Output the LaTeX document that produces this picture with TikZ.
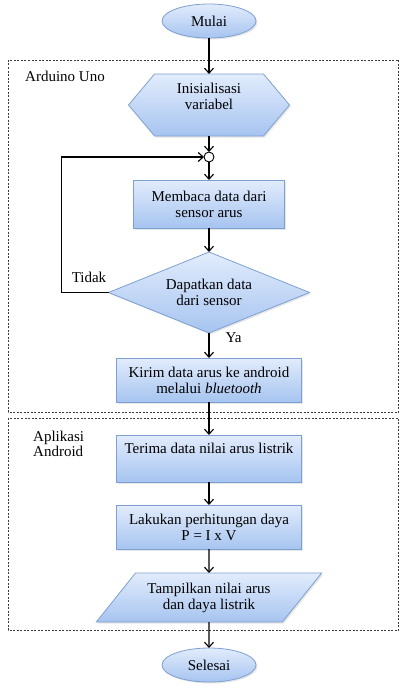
\documentclass[tikz,border=0pt]{standalone}
\usepackage{fontspec}
\setmainfont{Liberation Serif}
\newfontfamily\hurufserif{Liberation Serif}
\usepackage{tikz}
\usetikzlibrary{shapes.geometric, shapes.symbols, arrows.meta, positioning, calc, shadows}
\usepackage{xcolor}
\definecolor{birumuda}{RGB}{226,236,252}
\definecolor{birutua}{RGB}{166,196,240}
\definecolor{garis}{RGB}{125,160,210}
\definecolor{putus}{RGB}{60,60,60}
\tikzset{
  blok/.style={draw=garis, top color=birumuda, bottom color=birutua, line width=0.8pt,
               align=center, inner sep=0pt, outer sep=0pt,
               drop shadow={opacity=0.2, shadow xshift=1.5pt, shadow yshift=-1.5pt},
               font=\hurufserif\fontsize{15}{16}\selectfont},
  proses/.style={blok, rectangle, minimum width=185pt, minimum height=44pt},
  terminal/.style={blok, ellipse, minimum width=94pt, minimum height=34pt},
  persiapan/.style={blok, signal, signal to=west and east, signal pointer angle=100,
                    minimum width=161pt, minimum height=62pt},
  putusan/.style={blok, diamond, aspect=2.48, minimum width=201pt, minimum height=81pt},
  data/.style={blok, trapezium, trapezium left angle=42, trapezium right angle=138,
               trapezium stretches=true, minimum width=226pt, minimum height=49pt},
  titik/.style={circle, draw, fill=white, line width=0.9pt, minimum size=10pt,
                inner sep=0pt, outer sep=0pt},
  panah/.style={-{Straight Barb[length=5pt, width=9pt]}, line width=1.1pt},
  kotak/.style={dash pattern=on 2pt off 1.5pt, draw=putus, line width=0.9pt},
  teks/.style={font=\hurufserif\fontsize{15}{16}\selectfont, inner sep=0pt}
}
\begin{document}
\begin{tikzpicture}[x=1pt, y=-1pt]
    \useasboundingbox (0,0) rectangle (399,693);
    % kotak Arduino dan Android
    \draw[kotak] (8,60) rectangle (398.5,412);
    \draw[kotak] (8,418) rectangle (398.5,630);
    \node[teks, anchor=west] (arduino) at (25,76) {Arduino Uno};
    \node[teks, anchor=north west, align=left, font=\hurufserif\fontsize{15}{15}\selectfont] (android) at (33,431)
      {Aplikasi\\Android};

    \node[terminal] (mulai) at (209,21) {Mulai};
    \node[persiapan, below=36pt of mulai] (init) {Inisialisasi\\variabel\\[2pt]~};
    \node[titik, below=16pt of init] (titik) {};
    \node[proses, below=18pt of titik, minimum width=151pt, minimum height=48pt] (baca)
      {Membaca data dari\\sensor arus};
    \node[putusan, below=24pt of baca] (cek) {Dapatkan data\\dari sensor};
    \node[proses, below=25pt of cek] (kirim) {Kirim data arus ke android\\melalui \textit{bluetooth}};
    \node[proses, below=33pt of kirim, minimum height=47pt] (terima) {Terima data nilai arus listrik\\[4pt]~};
    \node[proses, below=23pt of terima] (hitung) {Lakukan perhitungan daya\\P = I x V};
    \node[data, below=24pt of hitung] (tampil) {Tampilkan nilai arus\\dan daya listrik};
    \node[terminal, below=26pt of tampil] (selesai) {Selesai};

    \draw[panah] (mulai) -- (init);
    \draw[panah] (init) -- (titik);
    \draw[panah] (titik) -- (baca);
    \draw[panah] (baca) -- (cek);
    \draw[panah] (cek) -- node[teks, pos=0.2, right=16pt] {Ya} (kirim);
    \draw[panah] (cek.west) -- node[teks, above=9pt, xshift=4pt] {Tidak} ++(-47,0) |- (titik.west);
    \draw[panah] (kirim) -- (terima);
    \draw[panah] (terima) -- (hitung);
    \draw[panah] (hitung) -- (tampil);
    \draw[panah] (tampil) -- (selesai);
\end{tikzpicture}
\end{document}
